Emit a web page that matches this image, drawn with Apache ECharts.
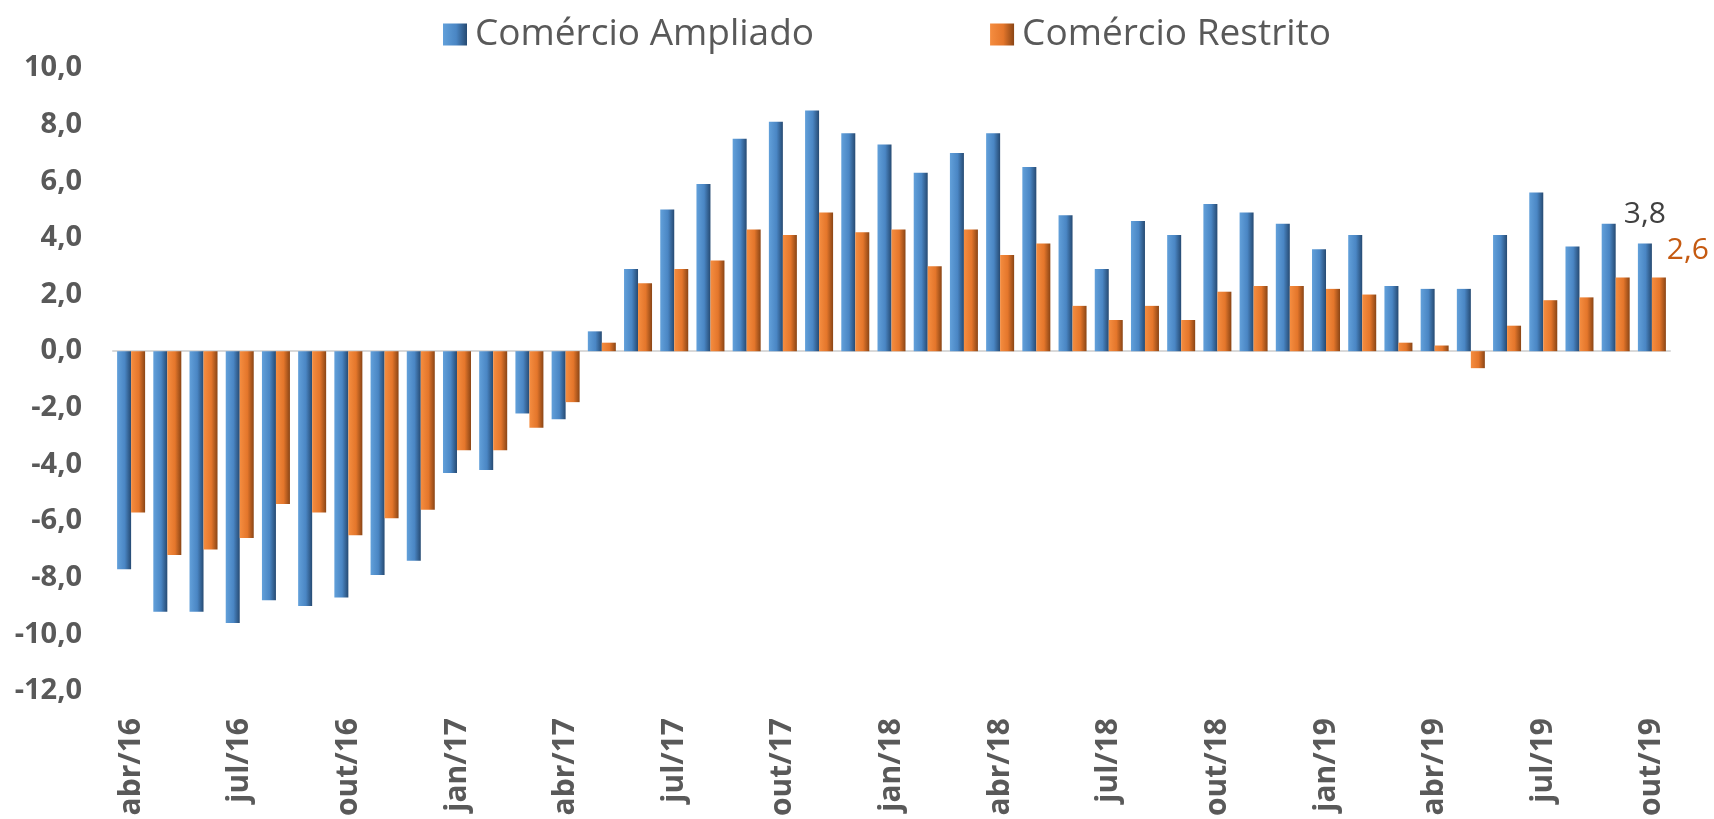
<!DOCTYPE html>
<html>
<head>
<meta charset="utf-8">
<title>Comércio Ampliado x Comércio Restrito</title>
<script src="https://cdn.jsdelivr.net/npm/echarts@6/dist/echarts.min.js"></script>
<style>
    html, body { margin: 0; padding: 0; background: #fff; }
    #chart { width: 1714px; height: 819px; }
</style>
</head>
<body>
<div id="chart"></div>
<script>
// meses (abr/16 a out/19)
var meses = [
    "abr/16", "mai/16", "jun/16", "jul/16", "ago/16", "set/16", "out/16", "nov/16", "dez/16",
    "jan/17", "fev/17", "mar/17", "abr/17", "mai/17", "jun/17", "jul/17", "ago/17", "set/17", "out/17", "nov/17", "dez/17",
    "jan/18", "fev/18", "mar/18", "abr/18", "mai/18", "jun/18", "jul/18", "ago/18", "set/18", "out/18", "nov/18", "dez/18",
    "jan/19", "fev/19", "mar/19", "abr/19", "mai/19", "jun/19", "jul/19", "ago/19", "set/19", "out/19"
];

// Comércio Ampliado (%)
var ampliado = [
    -7.7, -9.2, -9.2, -9.6, -8.8, -9.0, -8.7, -7.9, -7.4,
    -4.3, -4.2, -2.2, -2.4, 0.7, 2.9, 5.0, 5.9, 7.5, 8.1, 8.5, 7.7,
    7.3, 6.3, 7.0, 7.7, 6.5, 4.8, 2.9, 4.6, 4.1, 5.2, 4.9, 4.5,
    3.6, 4.1, 2.3, 2.2, 2.2, 4.1, 5.6, 3.7, 4.5, 3.8
];

// Comércio Restrito (%)
var restrito = [
    -5.7, -7.2, -7.0, -6.6, -5.4, -5.7, -6.5, -5.9, -5.6,
    -3.5, -3.5, -2.7, -1.8, 0.3, 2.4, 2.9, 3.2, 4.3, 4.1, 4.9, 4.2,
    4.3, 3.0, 4.3, 3.4, 3.8, 1.6, 1.1, 1.6, 1.1, 2.1, 2.3, 2.3,
    2.2, 2.0, 0.3, 0.2, -0.6, 0.9, 1.8, 1.9, 2.6, 2.6
];

var gFont = "Open Sans";

function fmt(v) {
    return v.toFixed(1).replace(".", ",");
}

// ultimo ponto com rotulo
function lastLabel(arr, labelOpt) {
    var out = [];
    for (var i = 0; i < arr.length; i++) {
        if (i == arr.length - 1) {
            out.push({ value: arr[i], label: labelOpt });
        } else {
            out.push(arr[i]);
        }
    }
    return out;
}

function bevel(c0, c1, c2) {
    return new echarts.graphic.LinearGradient(0, 0, 1, 0, [
        { offset: 0, color: c0 },
        { offset: 0.55, color: c1 },
        { offset: 1, color: c2 }
    ]);
}

var myChart = echarts.init(document.getElementById("chart"));

var option = {
    backgroundColor: "#ffffff",
    animation: false,
    legend: {
        left: 438,
        top: 11,
        itemWidth: 24,
        itemHeight: 22,
        itemGap: 176,
        icon: "rect",
        textStyle: { fontFamily: gFont, fontSize: 37, color: "#595959", padding: [0, 0, 0, 3] },
        data: ["Comércio Ampliado", "Comércio Restrito"]
    },
    grid: { left: 113, right: 44, top: 68, bottom: 124 },
    xAxis: [{
        type: "category",
        data: meses,
        axisLine: { onZero: true, lineStyle: { color: "#d9d9d9", width: 2 } },
        axisTick: { show: false },
        axisLabel: { show: false }
    }, {
        type: "category",
        data: meses,
        position: "bottom",
        axisLine: { show: false, onZero: false },
        axisTick: { show: false },
        axisLabel: {
            interval: 2,
            rotate: 90,
            margin: 27,
            fontFamily: gFont,
            fontWeight: "bold",
            fontSize: 30,
            color: "#595959"
        }
    }],
    yAxis: {
        type: "value",
        min: -12,
        max: 10,
        interval: 2,
        axisLine: { show: false },
        axisTick: { show: false },
        splitLine: { show: false },
        axisLabel: {
            margin: 31,
            fontFamily: gFont,
            fontWeight: "bold",
            fontSize: 29,
            color: "#595959",
            formatter: fmt
        }
    },
    series: [{
        name: "Comércio Ampliado",
        type: "bar",
        barWidth: 14,
        barGap: "0%",
        itemStyle: { color: bevel("#62a0da", "#4a86c4", "#264a72") },
        data: lastLabel(ampliado, {
            show: true,
            position: "top",
            distance: 14,
            fontFamily: gFont,
            fontSize: 30,
            color: "#404040",
            formatter: function (p) { return fmt(p.value); }
        })
    }, {
        name: "Comércio Restrito",
        type: "bar",
        barWidth: 14,
        barGap: "0%",
        itemStyle: { color: bevel("#f58d40", "#e4762b", "#8a4515") },
        data: lastLabel(restrito, {
            show: true,
            position: "top",
            distance: 12,
            offset: [29, 0],
            fontFamily: gFont,
            fontSize: 30,
            color: "#c55a11",
            formatter: function (p) { return fmt(p.value); }
        })
    }]
};

myChart.setOption(option);
</script>
</body>
</html>
